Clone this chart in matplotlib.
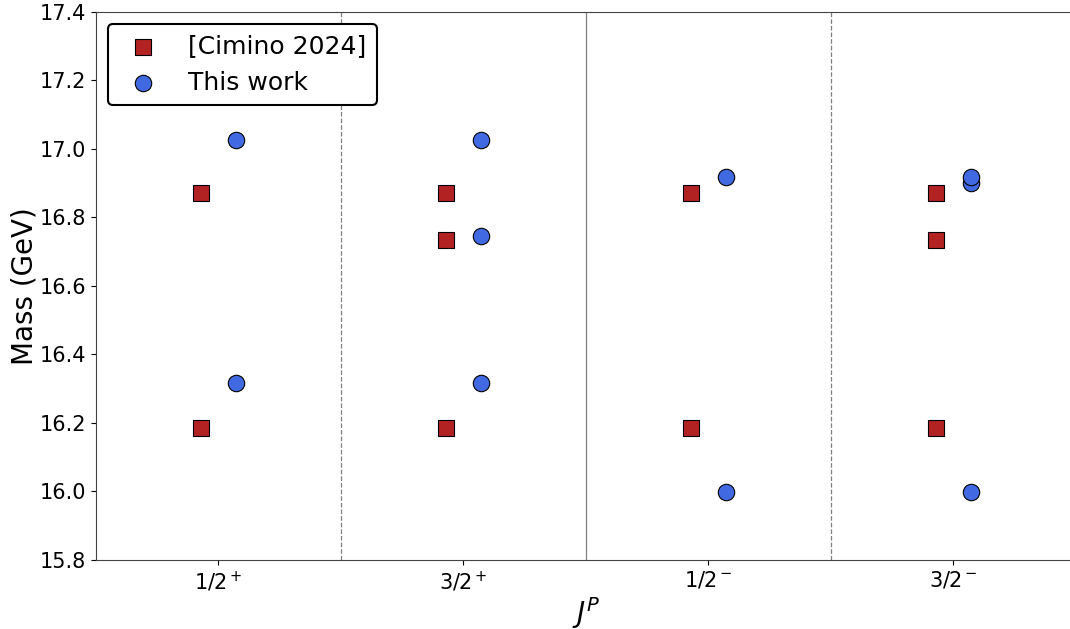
import numpy as np
import matplotlib.pyplot as plt

# J^P channels
labels = [r"1/2$^+$", r"3/2$^+$", r"1/2$^-$", r"3/2$^-$"]

# [Cimino 2024] masses (GeV) per channel
cimino = [
    [16.87, 16.185],
    [16.87, 16.735, 16.185],
    [16.87, 16.185],
    [16.87, 16.735, 16.185],
]

# this work masses (GeV) per channel
thiswork = [
    [17.027, 16.315],
    [17.027, 16.747, 16.315],
    [16.917, 15.998],
    [16.900, 16.917, 15.998],
]

offset = 0.07

fig, ax = plt.subplots(figsize=(10.7, 6.29), dpi=100)

for i in range(len(labels)):
    xc = np.full(len(cimino[i]), i - offset)
    xt = np.full(len(thiswork[i]), i + offset)
    ax.scatter(xc, cimino[i], marker='s', s=140, color='firebrick',
               edgecolor='black', linewidth=0.8, zorder=3,
               label='[Cimino 2024]' if i == 0 else None)
    ax.scatter(xt, thiswork[i], marker='o', s=140, color='royalblue',
               edgecolor='black', linewidth=0.8, zorder=3,
               label='This work' if i == 0 else None)

# separators between channels
ax.axvline(0.5, color='gray', linestyle='--', linewidth=0.9)
ax.axvline(1.5, color='gray', linestyle='-', linewidth=0.9)
ax.axvline(2.5, color='gray', linestyle='--', linewidth=0.9)

ax.set_xlim(-0.5, 3.5)
ax.set_ylim(15.8, 17.4)
ax.set_xticks(range(len(labels)))
ax.set_xticklabels(labels)
ax.set_yticks(np.arange(15.8, 17.41, 0.2))
ax.tick_params(labelsize=15)
ax.set_xlabel(r"$J^P$", fontsize=20, labelpad=1)
ax.set_ylabel("Mass (GeV)", fontsize=20, labelpad=0.5)

for sp in ax.spines.values():
    sp.set_color('#444444')

leg = ax.legend(loc='upper left', fontsize=18, framealpha=1, edgecolor='black',
                handletextpad=0.8, borderpad=0.4)
leg.get_frame().set_linewidth(1.5)

# the original is cropped on the right, so the axes runs past the edge
plt.subplots_adjust(left=0.0897, right=1.0056, top=0.981, bottom=0.11)
plt.savefig("out.png")
